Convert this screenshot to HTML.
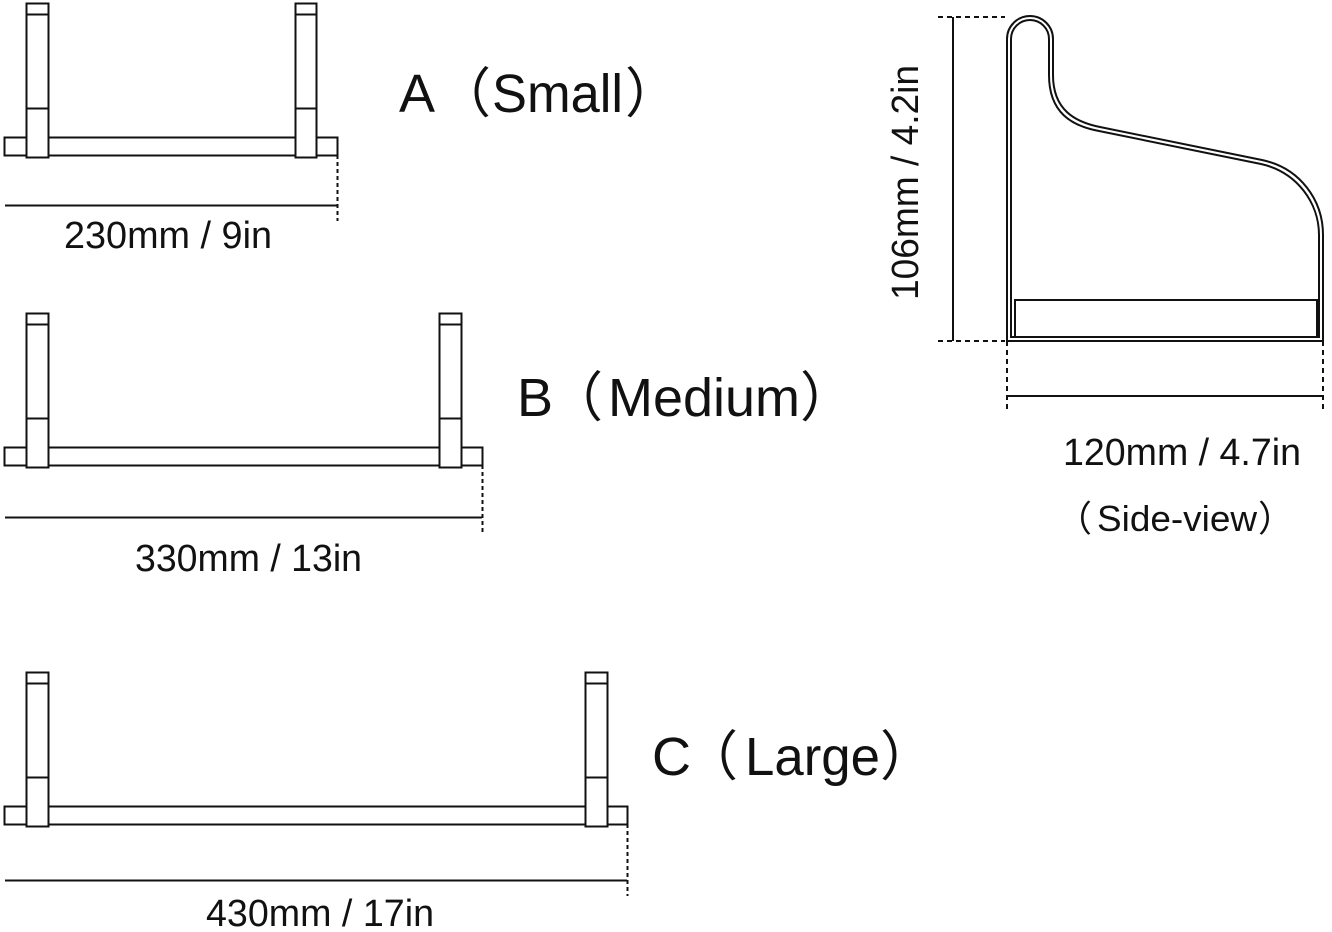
<!DOCTYPE html>
<html><head><meta charset="utf-8"><style>html,body{margin:0;padding:0;background:#fff}svg{display:block}</style></head><body>
<svg width="1332" height="932" viewBox="0 0 1332 932" xmlns="http://www.w3.org/2000/svg" font-family="Liberation Sans, Noto Sans CJK SC, sans-serif" fill="none" stroke="#111" stroke-width="2">
<g>
<rect x="4.5" y="137.5" width="333" height="18" fill="#fff"/>
<rect x="26.5" y="3.5" width="22" height="154" fill="#fff"/>
<line x1="26" y1="14.5" x2="48" y2="14.5"/><line x1="26" y1="108.5" x2="48" y2="108.5"/>
<rect x="295.5" y="3.5" width="21" height="154" fill="#fff"/>
<line x1="295" y1="14.5" x2="317" y2="14.5"/><line x1="295" y1="108.5" x2="317" y2="108.5"/>
<line x1="5" y1="205.5" x2="337" y2="205.5"/>
<line x1="337.5" y1="155" x2="337.5" y2="221" stroke-dasharray="4,3"/>
</g>
<g>
<rect x="4.5" y="447.5" width="478" height="18" fill="#fff"/>
<rect x="26.5" y="313.5" width="22" height="154" fill="#fff"/>
<line x1="26" y1="324.5" x2="48" y2="324.5"/><line x1="26" y1="418.5" x2="48" y2="418.5"/>
<rect x="439.5" y="313.5" width="22" height="154" fill="#fff"/>
<line x1="439" y1="324.5" x2="461" y2="324.5"/><line x1="439" y1="418.5" x2="461" y2="418.5"/>
<line x1="5" y1="517.5" x2="482" y2="517.5"/>
<line x1="482.5" y1="465" x2="482.5" y2="534" stroke-dasharray="4,3"/>
</g>
<g>
<rect x="4.5" y="806.5" width="623" height="18" fill="#fff"/>
<rect x="26.5" y="672.5" width="22" height="154" fill="#fff"/>
<line x1="26" y1="683.5" x2="48" y2="683.5"/><line x1="26" y1="777.5" x2="48" y2="777.5"/>
<rect x="585.5" y="672.5" width="22" height="154" fill="#fff"/>
<line x1="585" y1="683.5" x2="607" y2="683.5"/><line x1="585" y1="777.5" x2="607" y2="777.5"/>
<line x1="5" y1="880.5" x2="627" y2="880.5"/>
<line x1="627.5" y1="824" x2="627.5" y2="896" stroke-dasharray="4,3"/>
</g>
<g>
<path d="M1007,341 L1007,39 A23,23 0 0 1 1053,39 L1053,75 C1053,110 1075,122 1100,127 L1262,160 C1300,168 1323,200 1323,235 L1323,341 Z"/>
<path d="M1011,337 L1011,39 A19,19 0 0 1 1049,39 L1049,75 C1049,113 1072,126 1099,131 L1261,164 C1297,172 1319,203 1319,235 L1319,337 Z"/>
<rect x="1015" y="300" width="302" height="37"/>
<line x1="953" y1="17" x2="953" y2="341"/>
<line x1="938" y1="17" x2="1005" y2="17" stroke-dasharray="5,4"/>
<line x1="938" y1="341" x2="1005" y2="341" stroke-dasharray="5,4"/>
<line x1="1007" y1="341" x2="1007" y2="411" stroke-dasharray="5,4"/>
<line x1="1323" y1="341" x2="1323" y2="411" stroke-dasharray="5,4"/>
<line x1="1007" y1="396" x2="1323" y2="396"/>
</g>
<g fill="#111" stroke="none">
<g font-size="54">
<text x="399" y="112">A</text><text x="437" y="112">（</text><text x="492" y="112" textLength="131" lengthAdjust="spacingAndGlyphs">Small</text><text x="625" y="112">）</text>
<text x="517" y="416">B</text><text x="549" y="416">（</text><text x="608" y="416" textLength="192" lengthAdjust="spacingAndGlyphs">Medium</text><text x="800" y="416">）</text>
<text x="652" y="775">C</text><text x="684" y="775">（</text><text x="745" y="775" textLength="135" lengthAdjust="spacingAndGlyphs">Large</text><text x="880" y="775">）</text>
</g>
<text x="64" y="248" font-size="38" textLength="208" lengthAdjust="spacingAndGlyphs">230mm / 9in</text>
<text x="135" y="571" font-size="38" textLength="227" lengthAdjust="spacingAndGlyphs">330mm / 13in</text>
<text x="206" y="926" font-size="38" textLength="228" lengthAdjust="spacingAndGlyphs">430mm / 17in</text>
<text x="1063" y="465" font-size="38" textLength="238" lengthAdjust="spacingAndGlyphs">120mm / 4.7in</text>
<g font-size="36"><text x="1056" y="531">（</text><text x="1097" y="531" textLength="160" lengthAdjust="spacingAndGlyphs">Side-view</text><text x="1258" y="531">）</text></g>
<text transform="translate(918,300) rotate(-90)" font-size="38" textLength="235" lengthAdjust="spacingAndGlyphs">106mm / 4.2in</text>
</g>
</svg>
</body></html>
